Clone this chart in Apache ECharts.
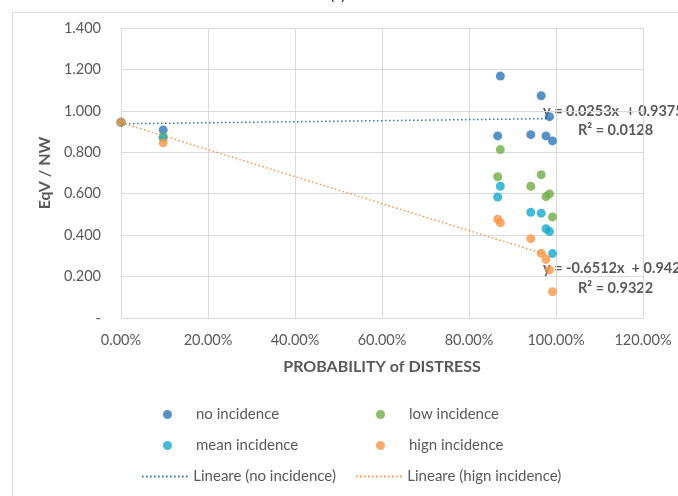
<!DOCTYPE html>
<html>
<head>
<meta charset="utf-8">
<script src="https://cdn.jsdelivr.net/npm/echarts@6/dist/echarts.min.js"></script>
<style>html,body{margin:0;padding:0;background:#fff}#c{width:678px;height:496px}</style>
</head>
<body>
<div id="c"></div>
<script>
// Probability of distress (%)
var xProb = [0, 9.7, 86.6, 87.2, 94.2, 96.6, 97.7, 98.5, 99.2];
var noIncidence   = [0.945, 0.908, 0.879, 1.168, 0.885, 1.073, 0.879, 0.972, 0.855];
var lowIncidence  = [0.945, 0.875, 0.682, 0.813, 0.636, 0.692, 0.586, 0.599, 0.488];
var meanIncidence = [0.945, 0.870, 0.584, 0.636, 0.510, 0.506, 0.431, 0.417, 0.311];
var highIncidence = [0.945, 0.846, 0.477, 0.460, 0.383, 0.312, 0.283, 0.232, 0.127];
// trend line endpoints [x, y]
var trendNo   = [[0, 0.9375], [99.2, 0.9626]];
var trendHigh = [[0, 0.9429], [99.2, 0.2969]];
var xTicks = [0, 20, 40, 60, 80, 100, 120];
var yTicks = [0, 0.2, 0.4, 0.6, 0.8, 1.0, 1.2, 1.4];

var C = {no:'#2E75B6', low:'#70AD47', mean:'#17A9CB', high:'#F79646'};
var FONT = 'Lato';
var GRAY = '#595959';

function pts(ys){ return xProb.map(function(x,i){ return [x, ys[i]]; }); }

// dotted line icon path (47 x 2)
var dotPath = 'path://';
for (var i = 0; i < 47; i += 4) dotPath += 'M' + i + ',0h1.6v2h-1.6z';

var chart = echarts.init(document.getElementById('c'));
function legend(name, left, top, isLine){
  return {
    data:[{name:name, icon: isLine ? dotPath : 'circle'}],
    left:left, top:top, itemWidth:47, itemHeight: isLine ? 2 : 9, itemGap:0,
    textStyle:{fontFamily:FONT, fontSize:15, color:GRAY},
    selectedMode:false, padding:0
  };
}
chart.setOption({
  animation:false,
  grid:{left:121, right:35, top:28, bottom:178},
  xAxis:{
    type:'value', min:0, max:120, interval:20,
    name:'PROBABILITY of DISTRESS', nameLocation:'middle', nameGap:41,
    nameTextStyle:{fontFamily:FONT, fontSize:16, fontWeight:'bold', color:GRAY},
    axisLine:{show:false}, axisTick:{show:false},
    splitLine:{show:true, lineStyle:{color:'#D9D9D9', width:1}},
    axisLabel:{fontFamily:FONT, fontSize:14.5, color:GRAY, margin:15,
      formatter:function(v){ return v.toFixed(2)+'%'; }}
  },
  yAxis:{
    type:'value', min:0, max:1.4, interval:0.2,
    name:'EqV / NW', nameLocation:'middle', nameGap:62, nameRotate:90,
    nameTextStyle:{fontFamily:FONT, fontSize:16, fontWeight:'bold', color:GRAY},
    axisLine:{show:false}, axisTick:{show:false},
    splitLine:{show:true, lineStyle:{color:'#D9D9D9', width:1}},
    axisLabel:{fontFamily:FONT, fontSize:14.5, color:GRAY, margin:20,
      formatter:function(v){ return v===0 ? '-' : v.toFixed(3); }}
  },
  legend:[
    legend('no incidence', 163, 407, false),
    legend('low incidence', 376, 407, false),
    legend('mean incidence', 163, 438, false),
    legend('hign incidence', 376, 438, false),
    legend('Lineare (no incidence)', 142, 469, true),
    legend('Lineare (hign incidence)', 356, 469, true)
  ],
  graphic:[
    {type:'rect', shape:{x:12.5, y:12.5, width:700, height:600}, style:{fill:'none', stroke:'#D9D9D9', lineWidth:1}, silent:true, z:-1},
    {type:'text', left:330, top:-13, style:{text:'(c)', font:'16px '+FONT, fill:'#333'}},
    {type:'text', left:543, top:104, style:{text:'y = 0.0253x  + 0.9375', font:'bold 14.5px '+FONT, fill:GRAY}},
    {type:'text', left:578, top:123, style:{text:'R² = 0.0128', font:'bold 14.5px '+FONT, fill:GRAY}},
    {type:'text', left:543, top:261, style:{text:'y = -0.6512x  + 0.9429', font:'bold 14.5px '+FONT, fill:GRAY}},
    {type:'text', left:578, top:281, style:{text:'R² = 0.9322', font:'bold 14.5px '+FONT, fill:GRAY}}
  ],
  series:[
    {name:'no incidence', type:'scatter', symbolSize:9, itemStyle:{color:C.no}, data:pts(noIncidence), z:3},
    {name:'low incidence', type:'scatter', symbolSize:9, itemStyle:{color:C.low}, data:pts(lowIncidence), z:3},
    {name:'mean incidence', type:'scatter', symbolSize:9, itemStyle:{color:C.mean}, data:pts(meanIncidence), z:3},
    {name:'hign incidence', type:'scatter', symbolSize:9, itemStyle:{color:C.high}, data:pts(highIncidence), z:3},
    {name:'Lineare (no incidence)', type:'line', symbol:'none', data:trendNo, z:4,
      lineStyle:{color:C.no, width:1.5, type:[1.5,2.5]}, itemStyle:{color:C.no}},
    {name:'Lineare (hign incidence)', type:'line', symbol:'none', data:trendHigh, z:4,
      lineStyle:{color:C.high, width:1.5, type:[1.5,2.5]}, itemStyle:{color:C.high}}
  ]
});
</script>
</body>
</html>
